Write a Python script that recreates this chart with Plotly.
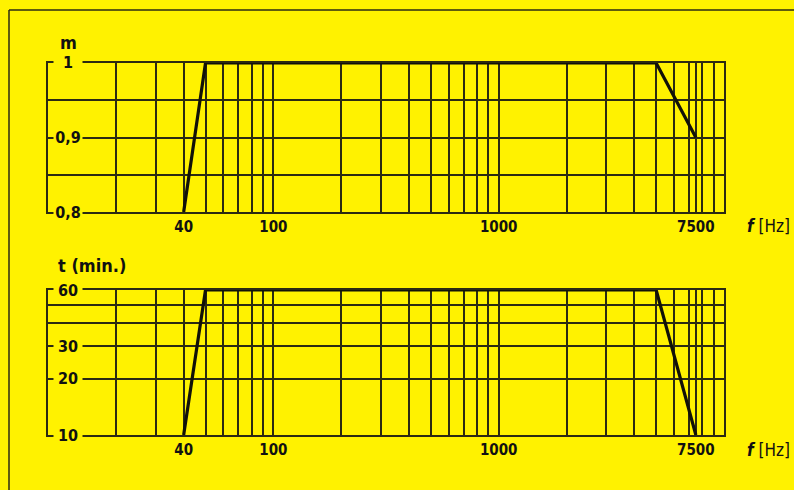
import numpy as np
import plotly.graph_objects as go

# ---------------- data ----------------
freq_points = [40, 50, 5000, 7500]
m_values = [0.8, 1.0, 1.0, 0.9]
t_values = [10, 60, 60, 10]

x_tick_vals = [40, 100, 1000, 7500]
x_tick_text = ["40", "100", "1000", "7500"]
x_grid_vals = ([10, 20, 30, 40, 50, 60, 70, 80, 90, 100,
                200, 300, 400, 500, 600, 700, 800, 900, 1000,
                2000, 3000, 4000, 5000, 6000, 7000, 7500, 8000, 9000, 10000])

m_tick_vals = [1.0, 0.9, 0.8]
m_tick_text = ["1", "0,9", "0,8"]
m_grid_vals = [0.8, 0.85, 0.9, 0.95, 1.0]

t_tick_vals = [60, 30, 20, 10]
t_tick_text = ["60", "30", "20", "10"]
t_grid_vals = [10, 20, 30, 40, 50, 60]

# ---------------- style ----------------
W, H = 794, 490
BG = "#FFF200"
INK = "#2b2a12"
GRID_W = 1.7
FONT = "DejaVu Sans Condensed, Liberation Sans Narrow, DejaVu Sans"


def px_x(p):
    return p / W


def px_y(p):
    return 1 - p / H


fig = go.Figure()

fig.add_trace(go.Scatter(x=freq_points, y=m_values, mode="lines",
                         line=dict(color="#111108", width=3.2),
                         xaxis="x", yaxis="y", cliponaxis=False,
                         showlegend=False, hoverinfo="skip"))
fig.add_trace(go.Scatter(x=freq_points, y=t_values, mode="lines",
                         line=dict(color="#111108", width=3.2),
                         xaxis="x2", yaxis="y2", cliponaxis=False,
                         showlegend=False, hoverinfo="skip"))

x_dom = [px_x(48), px_x(724)]

xaxis_common = dict(
    type="log", range=[1, 4], domain=x_dom,
    tickmode="array", tickvals=x_tick_vals, ticktext=x_tick_text,
    ticks="",
    tickfont=dict(family=FONT, size=15, color="#111", weight=700),
    showgrid=True, gridcolor=INK, gridwidth=GRID_W,
    minor=dict(tickmode="array", tickvals=x_grid_vals, showgrid=True,
               gridcolor=INK, gridwidth=GRID_W, ticks=""),
    showline=True, mirror=True, linecolor=INK, linewidth=GRID_W,
    zeroline=False, fixedrange=True,
)

fig.update_layout(
    width=W, height=H,
    margin=dict(l=0, r=0, t=0, b=0),
    paper_bgcolor=BG, plot_bgcolor=BG,
    xaxis=dict(anchor="y", **xaxis_common),
    xaxis2=dict(anchor="y2", **xaxis_common),
    yaxis=dict(
        domain=[px_y(212), px_y(63)], range=[0.8, 1.0], anchor="x",
        tickmode="array", tickvals=m_grid_vals, showticklabels=False,
        ticks="", showgrid=True, gridcolor=INK, gridwidth=GRID_W,
        showline=True, mirror=True, linecolor=INK, linewidth=GRID_W,
        zeroline=False, fixedrange=True,
    ),
    yaxis2=dict(
        type="log", domain=[px_y(435), px_y(290)],
        range=[1, np.log10(60)], anchor="x2",
        tickmode="array", tickvals=t_grid_vals, showticklabels=False,
        ticks="", showgrid=True, gridcolor=INK, gridwidth=GRID_W,
        showline=True, mirror=True, linecolor=INK, linewidth=GRID_W,
        zeroline=False, fixedrange=True,
    ),
)

annotations = []
lab_font = dict(family=FONT, size=16, color="#111", weight=700)
for v, t in zip(m_tick_vals, m_tick_text):
    annotations.append(dict(x=px_x(68), xref="paper", y=v, yref="y",
                            text=t, showarrow=False, bgcolor=BG,
                            width=26, align="center", xanchor="center",
                            yanchor="middle", font=lab_font))
for v, t in zip(t_tick_vals, t_tick_text):
    annotations.append(dict(x=px_x(68), xref="paper", y=np.log10(v), yref="y2",
                            text=t, showarrow=False, bgcolor=BG,
                            width=26, align="center", xanchor="center",
                            yanchor="middle", font=lab_font))

title_font = dict(family=FONT, size=18, color="#111", weight=700)
annotations.append(dict(x=px_x(68), y=px_y(43), xref="paper", yref="paper",
                        text="m", showarrow=False, xanchor="center",
                        yanchor="middle", font=title_font))
annotations.append(dict(x=px_x(56), y=px_y(265), xref="paper", yref="paper",
                        text="t (min.)", showarrow=False, xanchor="left",
                        yanchor="middle", font=title_font))
for yy in (226, 450):
    annotations.append(dict(x=px_x(792), y=px_y(yy), xref="paper", yref="paper",
                            text="<i><b>f</b></i> [Hz]", showarrow=False,
                            xanchor="right", yanchor="middle",
                            font=dict(family=FONT, size=17, color="#111")))

fig.update_layout(annotations=annotations)

# outer frame lines of the page
fig.update_layout(shapes=[
    dict(type="line", xref="paper", yref="paper", x0=px_x(9), x1=1,
         y0=px_y(10), y1=px_y(10), line=dict(color=INK, width=1.5)),
    dict(type="line", xref="paper", yref="paper", x0=px_x(9), x1=px_x(9),
         y0=px_y(10), y1=0, line=dict(color=INK, width=1.5)),
])

fig.write_html("out.html",
               config={"displayModeBar": False},
               post_script="document.body.style.margin='0';"
                           "document.body.style.background='" + BG + "';")
